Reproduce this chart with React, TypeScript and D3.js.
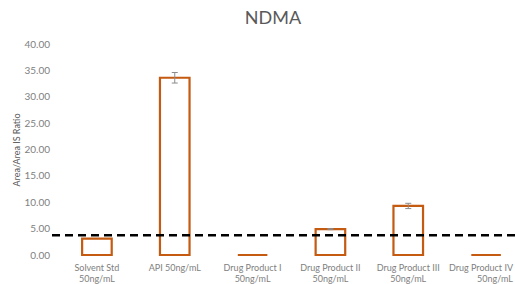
import React, { useEffect, useRef } from 'react';
import * as d3 from 'd3';

// categories as two-line labels
const categories: string[][] = [
  ["Solvent Std", "50ng/mL"],
  ["API 50ng/mL"],
  ["Drug Product I", "50ng/mL"],
  ["Drug Product II", "50ng/mL"],
  ["Drug Product III", "50ng/mL"],
  ["Drug Product IV", "50ng/mL"],
];
const values: number[] = [3.1, 33.6, 0, 4.9, 9.3, 0];
const errors: number[] = [0, 1.0, 0, 0.1, 0.5, 0];
const yTicks: number[] = [0, 5, 10, 15, 20, 25, 30, 35, 40];
const threshold = 3.75;

const W = 515, H = 284;
const font = "Lato, 'Open Sans', sans-serif";

export default function App() {
  const ref = useRef<SVGSVGElement>(null);

  useEffect(() => {
    const svg = d3.select(ref.current);
    svg.selectAll("*").remove();

    const keys = categories.map((c, i) => "c" + i);
    const x = d3.scaleBand().domain(keys).range([58, 525]).paddingInner(0.62).paddingOuter(0.31);
    const y = d3.scaleLinear().domain([0, 40]).range([255, 44]);

    svg.append("text")
      .attr("x", 273).attr("y", 24)
      .attr("text-anchor", "middle")
      .attr("font-family", font).attr("font-size", 18)
      .attr("fill", "#595959")
      .text("NDMA");

    svg.append("text")
      .attr("transform", "translate(20,150) rotate(-90)")
      .attr("text-anchor", "middle")
      .attr("font-family", font).attr("font-size", 9)
      .attr("fill", "#595959")
      .text("Area/Area IS Ratio");

    svg.selectAll(".ytick")
      .data(yTicks)
      .join("text")
      .attr("x", 50)
      .attr("y", d => y(d))
      .attr("dy", "0.35em")
      .attr("text-anchor", "end")
      .attr("font-family", font).attr("font-size", 10)
      .attr("fill", "#808080")
      .text(d => d.toFixed(2));

    // bars as paths so zero-height bars still show a line
    svg.selectAll(".bar")
      .data(values)
      .join("path")
      .attr("d", (d, i) => {
        const x0 = x(keys[i])!, x1 = x0 + x.bandwidth();
        const y0 = y(0), y1 = y(d);
        return `M${x0},${y0}L${x0},${y1}L${x1},${y1}L${x1},${y0}Z`;
      })
      .attr("fill", "white")
      .attr("stroke", "#C55A11")
      .attr("stroke-width", 2.2);

    const eb = svg.append("g").attr("stroke", "#8c8c8c").attr("stroke-width", 1);
    values.forEach((v, i) => {
      if (!errors[i]) return;
      const cx = x(keys[i])! + x.bandwidth() / 2;
      const top = y(v + errors[i]), bot = y(v - errors[i]);
      eb.append("line").attr("x1", cx).attr("x2", cx).attr("y1", top).attr("y2", bot);
      eb.append("line").attr("x1", cx - 3).attr("x2", cx + 3).attr("y1", top).attr("y2", top);
      eb.append("line").attr("x1", cx - 3).attr("x2", cx + 3).attr("y1", bot).attr("y2", bot);
    });

    svg.append("line")
      .attr("x1", 52).attr("x2", W)
      .attr("y1", y(threshold)).attr("y2", y(threshold))
      .attr("stroke", "#000")
      .attr("stroke-width", 2.5)
      .attr("stroke-dasharray", "8,5");

    // last label would run past the right edge, so pin it to the edge
    const lx = (i: number) => i === categories.length - 1 ? W - 2 : x(keys[i])! + x.bandwidth() / 2;
    const lbl = svg.selectAll(".xlbl")
      .data(categories)
      .join("text")
      .attr("x", (d, i) => lx(i))
      .attr("y", 271)
      .attr("text-anchor", (d, i) => i === categories.length - 1 ? "end" : "middle")
      .attr("font-family", font).attr("font-size", 9)
      .attr("fill", "#808080");
    lbl.selectAll("tspan")
      .data(d => d)
      .join("tspan")
      .attr("x", function () { return (this.parentNode as SVGTextElement).getAttribute("x"); })
      .attr("dy", (d, j) => (j === 0 ? 0 : 11))
      .text(d => d);
  }, []);

  return (
    <svg ref={ref} width={W} height={H}
      style={{ position: "absolute", left: 0, top: 0, background: "white" }} />
  );
}
